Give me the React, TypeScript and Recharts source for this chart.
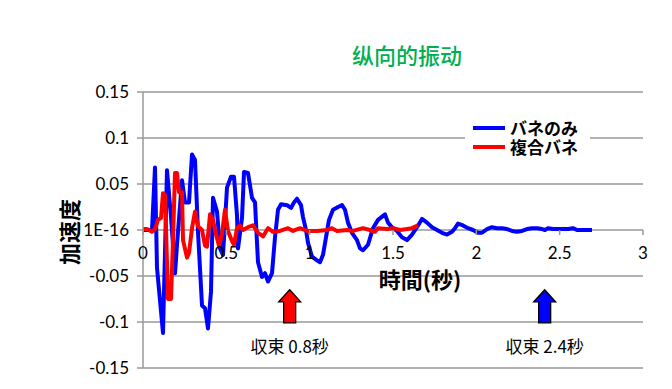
import React from 'react';
import {
  LineChart,
  Line,
  XAxis,
  YAxis,
  CartesianGrid,
  Legend,
  ReferenceDot,
  Label,
} from 'recharts';

// バネのみ (blue)
const blueTime = [
  0, 0.054, 0.072, 0.084, 0.12, 0.144, 0.168, 0.192, 0.204, 0.234, 0.252, 0.276,
  0.294, 0.312, 0.33, 0.354, 0.372, 0.39, 0.408, 0.42, 0.444, 0.462, 0.48, 0.504,
  0.528, 0.546, 0.564, 0.57, 0.594, 0.606, 0.63, 0.654, 0.672, 0.69, 0.714, 0.732,
  0.75, 0.774, 0.792, 0.81, 0.828, 0.864, 0.888, 0.906, 0.924, 0.948, 0.96, 0.978,
  0.99, 1.014, 1.044, 1.062, 1.08, 1.098, 1.116, 1.14, 1.17, 1.194, 1.212, 1.23,
  1.254, 1.284, 1.302, 1.32, 1.35, 1.38, 1.41, 1.452, 1.47, 1.494, 1.524, 1.554,
  1.584, 1.614, 1.644, 1.674, 1.704, 1.734, 1.764, 1.794, 1.824, 1.854, 1.872, 1.89,
  1.92, 1.95, 1.98, 2.01, 2.034, 2.064, 2.094, 2.124, 2.154, 2.184, 2.214, 2.244,
  2.274, 2.304, 2.334, 2.364, 2.394, 2.412, 2.43, 2.46, 2.49, 2.52, 2.55, 2.58,
  2.604, 2.634, 2.694,
];
const blueAccel = [
  0, 0, 0.068, -0.041, -0.112, 0.065, 0.014, -0.047, -0.016, 0.054, 0.03, 0.03,
  0.082, 0.076, -0.002, -0.082, -0.085, -0.107, -0.067, 0.035, 0.02, -0.02, -0.027, 0.046,
  0.058, 0.058, 0.016, -0.02, 0.013, 0.063, 0.062, 0.035, 0.03, -0.035, -0.051, -0.047,
  -0.056, -0.047, -0.008, 0.022, 0.028, 0.027, 0.024, 0.03, 0.034, 0.027, 0.014, 0,
  -0.014, -0.029, -0.033, -0.035, -0.027, -0.008, 0.011, 0.022, 0.025, 0.027, 0.022, 0.008,
  -0.003, -0.011, -0.02, -0.022, -0.016, 0.002, 0.011, 0.017, 0.008, 0.003, -0.001, -0.008,
  -0.011, -0.005, 0.003, 0.012, 0.008, 0.003, 0, -0.003, -0.005, -0.002, 0.002, 0.007,
  0.005, 0.002, 0, -0.003, -0.003, 0.001, 0.003, 0.002, 0.002, 0.001, -0.001, -0.002,
  -0.001, 0.001, 0.002, 0.002, 0.001, 0, 0.002, 0.001, 0.001, 0.001, 0.001, 0.002,
  0, 0, 0,
];

// 複合バネ (red)
const redTime = [
  0, 0.024, 0.054, 0.072, 0.09, 0.108, 0.12, 0.132, 0.138, 0.15, 0.168, 0.18,
  0.192, 0.204, 0.216, 0.234, 0.24, 0.264, 0.276, 0.294, 0.312, 0.33, 0.354, 0.372,
  0.384, 0.402, 0.42, 0.438, 0.456, 0.474, 0.492, 0.51, 0.534, 0.546, 0.564, 0.582,
  0.6, 0.63, 0.66, 0.69, 0.72, 0.75, 0.78, 0.822, 0.87, 0.9, 0.942, 0.984,
  1.044, 1.104, 1.134, 1.164, 1.224, 1.26, 1.32, 1.362, 1.392, 1.41, 1.464, 1.5,
  1.542, 1.584, 1.614, 1.65,
];
const redAccel = [
  0.001, 0.001, -0.002, 0.001, 0.011, 0.013, 0.04, 0.038, 0.003, -0.075, -0.075, -0.011,
  0.062, 0.062, 0.041, 0.041, -0.011, -0.03, -0.025, 0.002, 0.02, 0.004, 0, -0.017,
  -0.018, 0.017, 0.011, -0.005, -0.017, -0.004, 0.022, -0.001, -0.012, -0.016, 0.002, 0.005,
  0, 0.003, 0.005, -0.003, -0.007, 0.002, -0.002, -0.001, 0.002, -0.001, 0.002, -0.001,
  -0.001, 0, 0.002, -0.001, 0, -0.001, 0.002, 0, -0.002, 0.002, 0.001, 0.002,
  0, 0.001, 0.002, 0.005,
];

const seriesNames = ['バネのみ', '複合バネ'];
const xTicks = [0, 0.5, 1, 1.5, 2, 2.5, 3];
const yTicks = [-0.15, -0.1, -0.05, 0, 0.05, 0.1, 0.15];

// 収束 annotations
const notes = [
  { t: 0.88, label: '収束 0.8秒', color: '#ff0000' },
  { t: 2.41, label: '収束 2.4秒', color: '#0000ff' },
];
const arrowTip = -0.065;
const noteLevel = -0.125;

const blueData = blueTime.map((t, i) => ({ t, v: blueAccel[i] }));
const redData = redTime.map((t, i) => ({ t, v: redAccel[i] }));

const W = 672;
const H = 389;
const TOP = 92;
const PLOT_BOTTOM = 368;
const ZERO_Y = (TOP + PLOT_BOTTOM) / 2;
const AXIS = '#999999';
const NUM_FONT = 'Lato, "Noto Sans", sans-serif';
const JP_FONT = '"Noto Sans CJK JP", sans-serif';

const XTick = ({ x, payload }: any) => (
  <g>
    <line x1={x} x2={x} y1={ZERO_Y} y2={ZERO_Y + 5} stroke={AXIS} strokeWidth={1.5} />
    <text x={x} y={ZERO_Y + 29} textAnchor='middle' fontSize={17} fontFamily={NUM_FONT} fill='#000'>
      {payload.value}
    </text>
  </g>
);

const Arrow = ({ cx, cy, color }: any) => (
  <polygon
    points={`${cx},${cy} ${cx + 11},${cy + 12} ${cx + 6},${cy + 12} ${cx + 6},${cy + 33} ${cx - 6},${cy + 33} ${cx - 6},${cy + 12} ${cx - 11},${cy + 12}`}
    fill={color}
    stroke='#000'
    strokeWidth={1.3}
  />
);

const NoteText = ({ cx, cy, text }: any) => (
  <text x={cx} y={cy} textAnchor='middle' dominantBaseline='central' fontSize={17} fontFamily={JP_FONT} fill='#000'>
    {text}
  </text>
);

const renderLegend = (props: any) => (
  <div style={{ background: '#fff', padding: '5px 12px 5px 8px' }}>
    {props.payload.map((p: any) => (
      <div key={p.value} style={{ display: 'flex', alignItems: 'center', height: 19 }}>
        <span style={{ display: 'inline-block', width: 32, height: 4, background: p.color, marginRight: 5 }} />
        <span style={{ fontWeight: 'bold', fontSize: 17, fontFamily: JP_FONT, color: '#000', lineHeight: '19px' }}>
          {p.value}
        </span>
      </div>
    ))}
  </div>
);

const App: React.FC = () => {
  return (
    <div style={{ position: 'absolute', left: 0, top: 0, width: W, height: H, background: '#fff' }}>
      <div
        style={{
          position: 'absolute',
          left: 307,
          top: 40,
          width: 200,
          textAlign: 'center',
          fontSize: 22,
          lineHeight: '28px',
          color: '#00B050',
          fontFamily: '"Noto Sans CJK SC", sans-serif',
          fontWeight: 500,
        }}
      >
        纵向的振动
      </div>
      <LineChart width={W} height={H} margin={{ top: TOP, right: 29, bottom: 0, left: 83 }}>
        <CartesianGrid vertical={false} stroke={AXIS} strokeWidth={1.5} />
        <XAxis
          dataKey='t'
          type='number'
          domain={[0, 3]}
          ticks={xTicks}
          axisLine={false}
          tickLine={false}
          height={21}
          tick={<XTick />}
          interval={0}
        >
          <Label
            content={() => (
              <text x={420} y={ZERO_Y + 48} textAnchor='middle' dominantBaseline='central' fontSize={22} fontWeight='bold' fontFamily={JP_FONT} fill='#000'>
                時間(秒)
              </text>
            )}
          />
        </XAxis>
        <YAxis
          type='number'
          domain={[-0.15, 0.15]}
          ticks={yTicks}
          width={60}
          interval={0}
          axisLine={{ stroke: AXIS, strokeWidth: 1.5 }}
          tickLine={{ stroke: AXIS, strokeWidth: 1.5 }}
          tickSize={6}
          tickMargin={8}
          tick={{ fill: '#000', fontSize: 17, fontFamily: NUM_FONT }}
          tickFormatter={(v: number) => (v === 0 ? '1E-16' : String(v))}
        >
          <Label
            content={() => (
              <text x={68} y={232} transform='rotate(-90 68 232)' textAnchor='middle' dominantBaseline='central' fontSize={22} fontWeight='bold' fontFamily={JP_FONT} fill='#000'>
                加速度
              </text>
            )}
          />
        </YAxis>
        <Legend
          content={renderLegend}
          layout='horizontal'
          verticalAlign='middle'
          align='center'
          wrapperStyle={{ left: 465, top: 113, width: 'auto' }}
        />
        <Line
          data={blueData}
          dataKey='v'
          name={seriesNames[0]}
          stroke='#0000ff'
          strokeWidth={4}
          strokeLinejoin='round'
          dot={false}
          isAnimationActive={false}
        />
        <Line
          data={redData}
          dataKey='v'
          name={seriesNames[1]}
          stroke='#ff0000'
          strokeWidth={4}
          strokeLinejoin='round'
          dot={false}
          isAnimationActive={false}
        />
        {notes.map((n) => (
          <ReferenceDot
            key={'a' + n.label}
            x={n.t}
            y={arrowTip}
            r={0}
            shape={(p: any) => <Arrow cx={p.cx} cy={p.cy} color={n.color} />}
          />
        ))}
        {notes.map((n) => (
          <ReferenceDot
            key={'t' + n.label}
            x={n.t}
            y={noteLevel}
            r={0}
            shape={(p: any) => <NoteText cx={p.cx} cy={p.cy} text={n.label} />}
          />
        ))}
      </LineChart>
    </div>
  );
};

export default App;
